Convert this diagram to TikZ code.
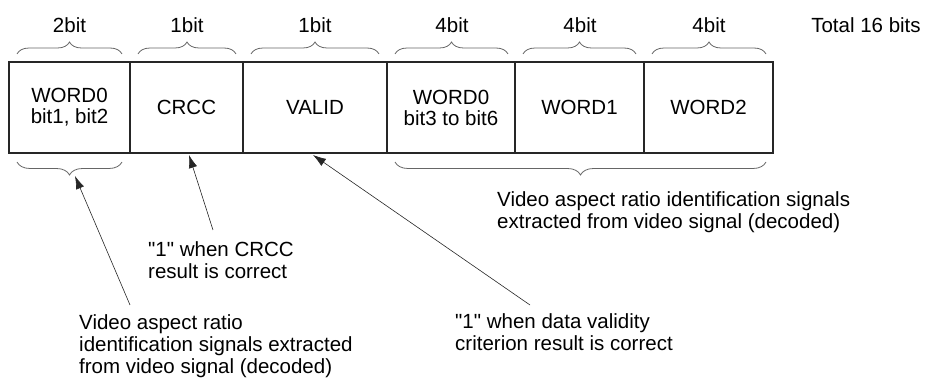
\documentclass[tikz,border=0pt]{standalone}
\usepackage{fontspec}
\setmainfont{Liberation Sans}
\usetikzlibrary{decorations.pathreplacing,arrows.meta}
\tikzset{
  cell/.style={draw=black!85, line width=1.7pt, inner sep=0pt, minimum height=91pt, align=center, font=\fontsize{20.5}{21}\selectfont},
  bitlbl/.style={inner sep=0pt, font=\fontsize{20.5}{22}\selectfont},
  note/.style={inner sep=0pt, align=left, anchor=north west, font=\fontsize{20.5}{22}\selectfont},
  brc/.style={draw=black!60, line width=0.8pt, decorate, decoration={brace, amplitude=12pt}},
  brcm/.style={brc, decoration={brace, mirror, amplitude=13pt}},
  arr/.style={draw=black!85, line width=0.6pt, -{Latex[length=13pt,width=8.5pt]}}
}
\begin{document}
\begin{tikzpicture}[x=1pt,y=-1pt]
\useasboundingbox (0,0) rectangle (927,379);
% cells
\node[cell, minimum width=121pt] (c1) at (69.5,107.5) {WORD0\\bit1, bit2};
\node[cell, minimum width=113pt] (c2) at (186.5,107.5) {CRCC};
\node[cell, minimum width=144pt] (c3) at (315,107.5) {VALID};
\node[cell, minimum width=128pt] (c4) at (451,107.5) {WORD0\\bit3 to bit6};
\node[cell, minimum width=129pt] (c5) at (579.5,107.5) {WORD1};
\node[cell, minimum width=129pt] (c6) at (708.5,107.5) {WORD2};
% top braces
\coordinate (b1a) at (17,54); \coordinate (b1b) at (122,54);
\coordinate (b2a) at (138,54); \coordinate (b2b) at (236,54);
\coordinate (b3a) at (251,54); \coordinate (b3b) at (379,54);
\coordinate (b4a) at (395,54); \coordinate (b4b) at (508,54);
\coordinate (b5a) at (523,54); \coordinate (b5b) at (636,54);
\coordinate (b6a) at (652,54); \coordinate (b6b) at (766,54);
\draw[brc] (b1a) -- (b1b);
\draw[brc] (b2a) -- (b2b);
\draw[brc] (b3a) -- (b3b);
\draw[brc] (b4a) -- (b4b);
\draw[brc] (b5a) -- (b5b);
\draw[brc] (b6a) -- (b6b);
\node[bitlbl] (l1) at (69.5,25) {2bit};
\node[bitlbl] (l2) at (187,25) {1bit};
\node[bitlbl] (l3) at (315,25) {1bit};
\node[bitlbl] (l4) at (452,25) {4bit};
\node[bitlbl] (l5) at (580,25) {4bit};
\node[bitlbl] (l6) at (709,25) {4bit};
\node[bitlbl] (tot) at (866,25) {Total 16 bits};
% bottom braces
\coordinate (d1a) at (17,162); \coordinate (d1b) at (122,162);
\coordinate (d2a) at (395,162); \coordinate (d2b) at (766,162);
\draw[brcm] (d1a) -- (d1b);
\draw[brcm] (d2a) -- (d2b);
% texts
\node[note] (t4) at (497,191) {Video aspect ratio identification signals\\extracted from video signal (decoded)};
\node[note] (t2) at (148,241) {\textquotedbl1\textquotedbl{} when CRCC\\result is correct};
\node[note] (t3) at (455,313) {\textquotedbl1\textquotedbl{} when data validity\\criterion result is correct};
\node[note] (t1) at (79,314) {Video aspect ratio\\identification signals extracted\\from video signal (decoded)};
% arrows
\coordinate (a1s) at (130,305); \coordinate (a1e) at (75,176);
\coordinate (a2s) at (213,230); \coordinate (a2e) at (189,155);
\coordinate (a3s) at (530,305); \coordinate (a3e) at (313,155);
\draw[arr] (a1s) -- (a1e);
\draw[arr] (a2s) -- (a2e);
\draw[arr] (a3s) -- (a3e);
\end{tikzpicture}
\end{document}
